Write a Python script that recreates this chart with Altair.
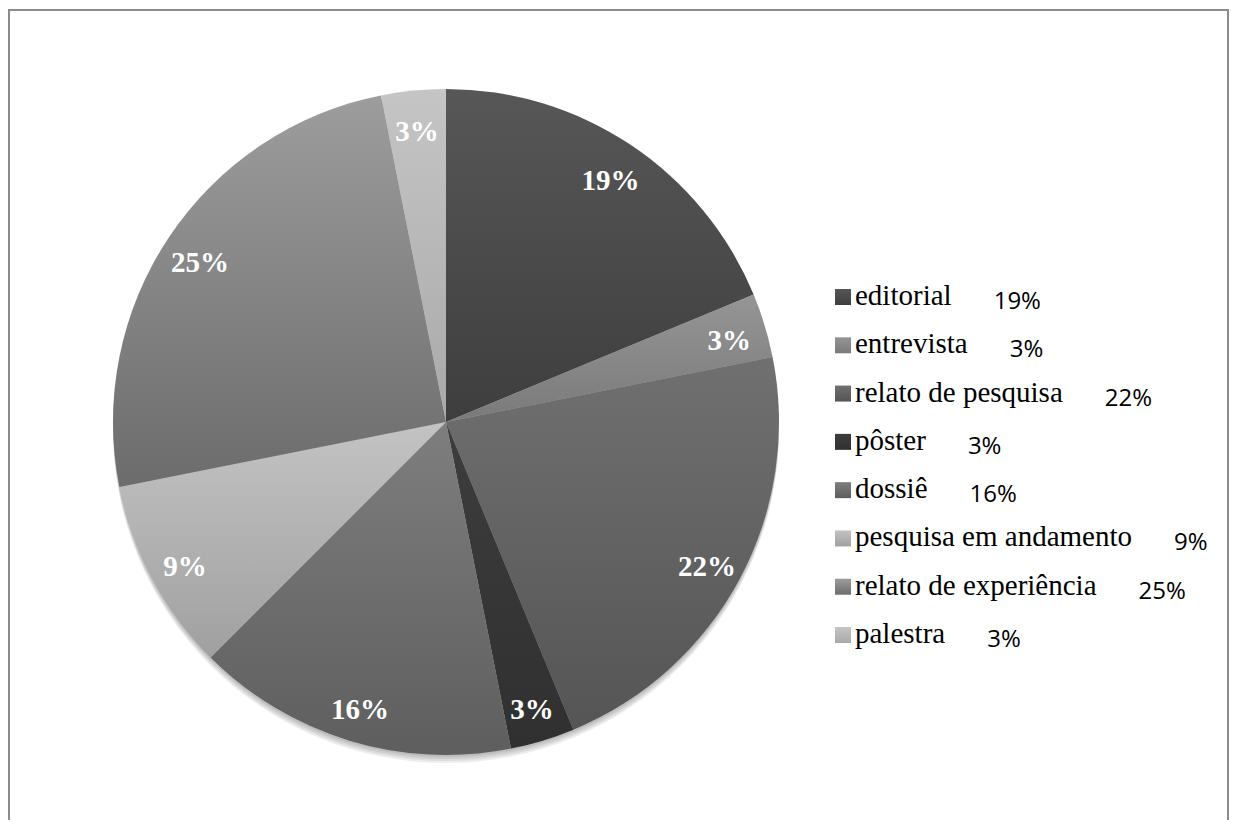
import math
import altair as alt
import pandas as pd

# ---- data ----
categories = ["editorial", "entrevista", "relato de pesquisa", "pôster",
              "dossiê", "pesquisa em andamento", "relato de experiência", "palestra"]
counts = [6, 1, 7, 1, 5, 3, 8, 1]
pct_labels = ["19%", "3%", "22%", "3%", "16%", "9%", "25%", "3%"]

# gradient (top, bottom) grays per slice
slice_top = ["#575757", "#959595", "#707070", "#3d3d3d", "#7e7e7e", "#c3c3c3", "#9d9d9d", "#c5c5c5"]
slice_bot = ["#3e3e3e", "#7a7a7a", "#555555", "#303030", "#5e5e5e", "#a0a0a0", "#6c6c6c", "#a9a9a9"]

# Times / Liberation Serif advance widths (per 1000 em) to place the % after each legend label
TIMES_W = {"a": 444, "c": 444, "d": 500, "e": 444, "i": 278, "l": 278, "m": 778, "n": 500,
           "o": 500, "p": 500, "q": 500, "r": 333, "s": 389, "t": 278, "u": 500, "v": 500,
           "x": 500, " ": 250, "ô": 500, "ê": 444}
LEG_FONT = 29
LEG_X = 847
GAP = 42


def text_w(s):
    return sum(TIMES_W.get(ch, 500) for ch in s) * LEG_FONT / 1000.0


df = pd.DataFrame({
    "order": list(range(len(categories))),
    "category": categories,
    "count": counts,
    "pct": pct_labels,
    "pctx": [LEG_X + text_w(c) + GAP for c in categories],
})

W, H = 1221, 812
CX, CY, R = 438, 414, 333
theta_scale = alt.Scale(domain=[0, sum(counts)], range=[0, 2 * math.pi])
y_scale = alt.Scale(domain=[0, len(categories) - 1], range=[297, 635], nice=False, zero=False)

base = alt.Chart(df).transform_window(
    end="sum(count)", sort=[alt.SortField("order")], frame=[None, 0]
).transform_calculate(
    start="datum.end - datum.count",
    mid="(datum.end - datum.count / 2)",
)


def grad(top, bot):
    return alt.LinearGradient(
        gradient="linear",
        stops=[alt.GradientStop(color=top, offset=0), alt.GradientStop(color=bot, offset=1)],
        x1=0, x2=0, y1=0, y2=1,
    )


one = pd.DataFrame({"a": [0]})

# soft drop shadow under the pie
shadows = [
    alt.Chart(one).mark_arc(radius=R, fill="black", opacity=0.07, yOffset=off).encode(
        theta=alt.value(0), theta2=alt.value(2 * math.pi), x=alt.value(CX), y=alt.value(CY)
    )
    for off in [2, 4, 6, 8]
]

layers = list(shadows)
for i in range(len(categories)):
    g = grad(slice_top[i], slice_bot[i])
    sub = base.transform_filter(alt.datum.order == i)
    layers.append(
        sub.mark_arc(radius=R, fill=g).encode(
            theta=alt.Theta("start:Q", scale=theta_scale),
            theta2=alt.Theta2("end:Q"),
            x=alt.value(CX), y=alt.value(CY),
        )
    )
    layers.append(
        sub.mark_square(size=256, fill=g, opacity=1, yOffset=-8).encode(
            x=alt.value(835),
            y=alt.Y("order:Q", scale=y_scale, axis=None),
        )
    )

pie_text = base.mark_text(
    radius=296, font="Liberation Serif", fontSize=29, fontWeight="bold",
    fill="white", align="center", baseline="middle", dy=5,
).encode(
    theta=alt.Theta("mid:Q", scale=theta_scale),
    text="pct:N",
    x=alt.value(CX), y=alt.value(CY),
)

leg_label = base.mark_text(
    align="left", baseline="alphabetic", font="Liberation Serif", fontSize=LEG_FONT, fill="black"
).encode(
    x=alt.value(LEG_X),
    y=alt.Y("order:Q", scale=y_scale, axis=None),
    text="category:N",
)

leg_pct = base.mark_text(
    align="left", baseline="alphabetic", font="Open Sans", fontSize=24, fill="black", yOffset=4
).encode(
    x=alt.X("pctx:Q", scale=None, axis=None),
    y=alt.Y("order:Q", scale=y_scale, axis=None),
    text="pct:N",
)

BORDER = "#8c8c8c"
frame = [
    alt.Chart(one).mark_rule(color=BORDER, strokeWidth=2).encode(
        x=alt.value(0), x2=alt.value(W), y=alt.value(2), y2=alt.value(2)),
    alt.Chart(one).mark_rule(color=BORDER, strokeWidth=2).encode(
        x=alt.value(1), x2=alt.value(1), y=alt.value(2), y2=alt.value(H)),
    alt.Chart(one).mark_rule(color=BORDER, strokeWidth=2).encode(
        x=alt.value(W - 1), x2=alt.value(W - 1), y=alt.value(2), y2=alt.value(H)),
]

chart = alt.layer(*layers, pie_text, leg_label, leg_pct, *frame).properties(
    width=W, height=H, padding=0, autosize=alt.AutoSizeParams(type="none"),
    background="white",
).configure_view(stroke=None)

chart.save("out.html", embed_options={"renderer": "svg", "actions": False})
